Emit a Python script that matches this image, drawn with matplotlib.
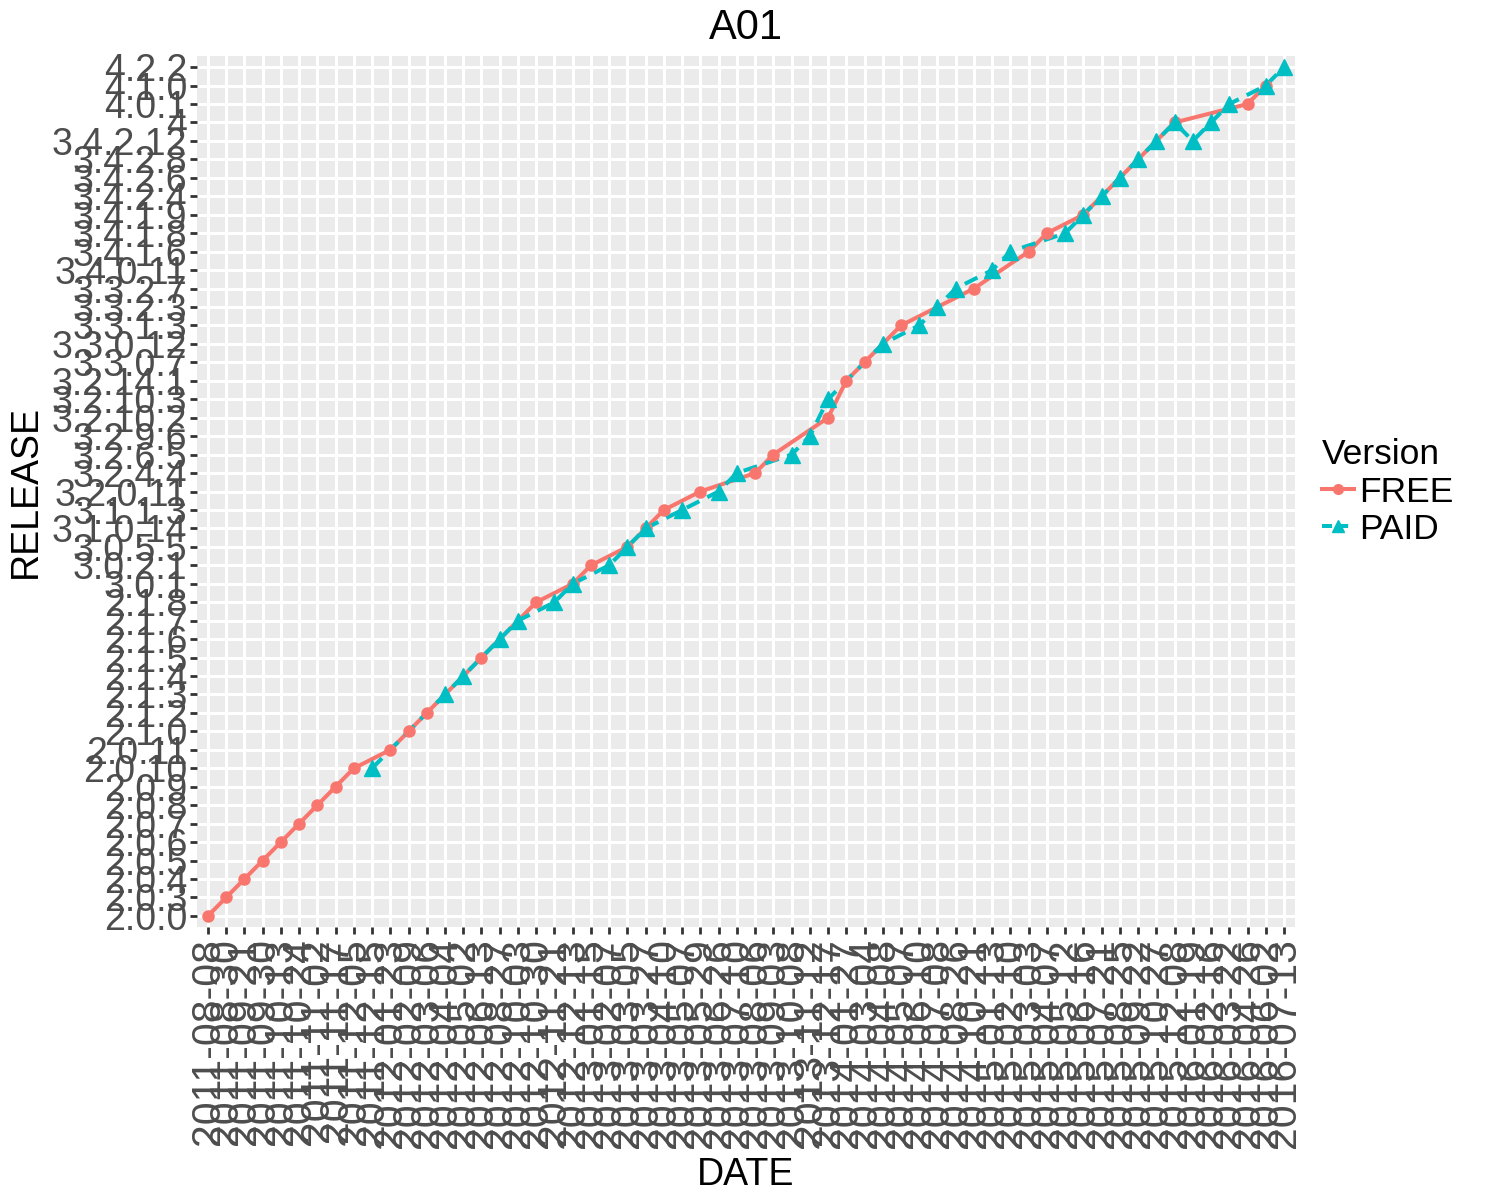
import matplotlib
matplotlib.use('Agg')
import matplotlib.pyplot as plt
from matplotlib.lines import Line2D

plt.rcParams['font.family'] = ['Liberation Sans', 'DejaVu Sans']

# x categories (release dates) and y categories (version strings), in axis order
dates = ['2011-08-08', '2011-08-30', '2011-09-21', '2011-09-30', '2011-10-13',
         '2011-10-24', '2011-11-02', '2011-11-17', '2011-12-05', '2011-12-15',
         '2012-01-23', '2012-02-09', '2012-03-06', '2012-04-04', '2012-05-02',
         '2012-06-13', '2012-08-27', '2012-10-03', '2012-10-30', '2012-11-21',
         '2012-12-13', '2013-01-15', '2013-02-07', '2013-03-05', '2013-03-27',
         '2013-04-10', '2013-05-07', '2013-05-29', '2013-06-26', '2013-07-10',
         '2013-08-06', '2013-09-03', '2013-10-08', '2013-11-12', '2013-12-17',
         '2014-01-27', '2014-03-04', '2014-04-08', '2014-05-07', '2014-06-10',
         '2014-07-08', '2014-08-26', '2014-10-21', '2015-01-13', '2015-02-10',
         '2015-03-03', '2015-04-07', '2015-05-12', '2015-06-16', '2015-07-21',
         '2015-08-25', '2015-09-22', '2015-10-27', '2015-12-08', '2016-01-19',
         '2016-02-16', '2016-03-22', '2016-04-26', '2016-06-02', '2016-07-13']

releases = ['2.0.0', '2.0.3', '2.0.4', '2.0.5', '2.0.6', '2.0.7', '2.0.8', '2.0.9',
            '2.0.10', '2.0.11', '2.1.0', '2.1.2', '2.1.3', '2.1.4', '2.1.5', '2.1.6',
            '2.1.7', '2.1.8', '3.0.1', '3.0.2.1', '3.0.5.5', '3.1.0.14', '3.1.1.3',
            '3.2.0.11', '3.2.4.4', '3.2.6.5', '3.2.9.6', '3.2.10.2', '3.2.10.3',
            '3.2.14.1', '3.3.0.7', '3.3.0.12', '3.3.1.3', '3.3.2.3', '3.3.2.7',
            '3.4.0.11', '3.4.1.6', '3.4.1.8', '3.4.1.9', '3.4.2.4', '3.4.2.6',
            '3.4.2.8', '3.4.2.12', '4', '4.0.1', '4.1.0', '4.2.2']

free_dates = ['2011-08-08', '2011-08-30', '2011-09-21', '2011-09-30', '2011-10-13',
              '2011-10-24', '2011-11-02', '2011-11-17', '2011-12-05', '2012-01-23',
              '2012-02-09', '2012-03-06', '2012-06-13', '2012-10-30', '2012-12-13',
              '2013-01-15', '2013-03-05', '2013-03-27', '2013-04-10', '2013-05-29',
              '2013-08-06', '2013-09-03', '2013-12-17', '2014-01-27', '2014-03-04',
              '2014-05-07', '2014-10-21', '2015-03-03', '2015-04-07', '2015-06-16',
              '2015-12-08', '2016-04-26', '2016-06-02']
free_releases = ['2.0.0', '2.0.3', '2.0.4', '2.0.5', '2.0.6', '2.0.7', '2.0.8', '2.0.9',
                 '2.0.10', '2.0.11', '2.1.0', '2.1.2', '2.1.5', '2.1.8', '3.0.1',
                 '3.0.2.1', '3.0.5.5', '3.1.0.14', '3.1.1.3', '3.2.0.11', '3.2.4.4',
                 '3.2.6.5', '3.2.10.2', '3.2.14.1', '3.3.0.7', '3.3.1.3', '3.3.2.7',
                 '3.4.1.6', '3.4.1.8', '3.4.1.9', '4', '4.0.1', '4.1.0']

paid_dates = ['2011-12-15', '2012-04-04', '2012-05-02', '2012-08-27', '2012-10-03',
              '2012-11-21', '2012-12-13', '2013-02-07', '2013-03-05', '2013-03-27',
              '2013-05-07', '2013-06-26', '2013-07-10', '2013-10-08', '2013-11-12',
              '2013-12-17', '2014-04-08', '2014-06-10', '2014-07-08', '2014-08-26',
              '2015-01-13', '2015-02-10', '2015-05-12', '2015-06-16', '2015-07-21',
              '2015-08-25', '2015-09-22', '2015-10-27', '2015-12-08', '2016-01-19',
              '2016-02-16', '2016-03-22', '2016-06-02', '2016-07-13']
paid_releases = ['2.0.10', '2.1.3', '2.1.4', '2.1.6', '2.1.7', '2.1.8', '3.0.1',
                 '3.0.2.1', '3.0.5.5', '3.1.0.14', '3.1.1.3', '3.2.0.11', '3.2.4.4',
                 '3.2.6.5', '3.2.9.6', '3.2.10.3', '3.3.0.12', '3.3.1.3', '3.3.2.3',
                 '3.3.2.7', '3.4.0.11', '3.4.1.6', '3.4.1.8', '3.4.1.9', '3.4.2.4',
                 '3.4.2.6', '3.4.2.8', '3.4.2.12', '4', '3.4.2.12', '4', '4.0.1',
                 '4.1.0', '4.2.2']

free_col = '#F8766D'
paid_col = '#00BFC4'

fig = plt.figure(figsize=(15, 12), dpi=100)
ax = fig.add_axes([0.1313, 0.2275, 0.732, 0.7258])
ax.set_facecolor('#EBEBEB')

fx = [dates.index(d) for d in free_dates]
fy = [releases.index(r) for r in free_releases]
px = [dates.index(d) for d in paid_dates]
py = [releases.index(r) for r in paid_releases]

ax.plot(fx, fy, color=free_col, lw=2.9, zorder=3)
ax.plot(px, py, color=paid_col, lw=2.9, dashes=(3.5, 2.2), zorder=4)
ax.plot(fx, fy, ls='none', marker='o', ms=8, color=free_col, zorder=5)
ax.plot(px, py, ls='none', marker='^', ms=11, color=paid_col, zorder=6)

ax.set_xlim(-0.6, len(dates) - 1 + 0.6)
ax.set_ylim(-0.6, len(releases) - 1 + 0.6)
ax.set_xticks(range(len(dates)))
ax.set_xticklabels(dates, rotation=90)
ax.set_yticks(range(len(releases)))
ax.set_yticklabels(releases)

ax.grid(True, color='white', linewidth=2.2)
ax.set_axisbelow(True)
for s in ax.spines.values():
    s.set_visible(False)
ax.tick_params(axis='both', length=5, width=2, color='#333333',
               labelcolor='#4D4D4D', labelsize=27, pad=2)
ax.tick_params(axis='x', labelsize=29.5, pad=3)

ax.set_xlabel('DATE', fontsize=27, labelpad=6)
ax.set_ylabel('RELEASE', fontsize=27, labelpad=6)
ax.set_title('A01', fontsize=30, pad=12)

handles = [Line2D([], [], color=free_col, lw=2.9, marker='o', ms=7),
           Line2D([], [], color=paid_col, lw=2.9, dashes=(2.5, 1.5), marker='^', ms=9)]
leg = fig.legend(handles, ['FREE', 'PAID'], title='Version', loc='center left',
                 bbox_to_anchor=(0.8813, 0.59), frameon=False, fontsize=25.5,
                 title_fontsize=25.5, handlelength=0.9, handletextpad=0.15,
                 labelspacing=0.12, alignment='left', borderaxespad=0,
                 borderpad=0)

fig.savefig('out.png', dpi=100)
